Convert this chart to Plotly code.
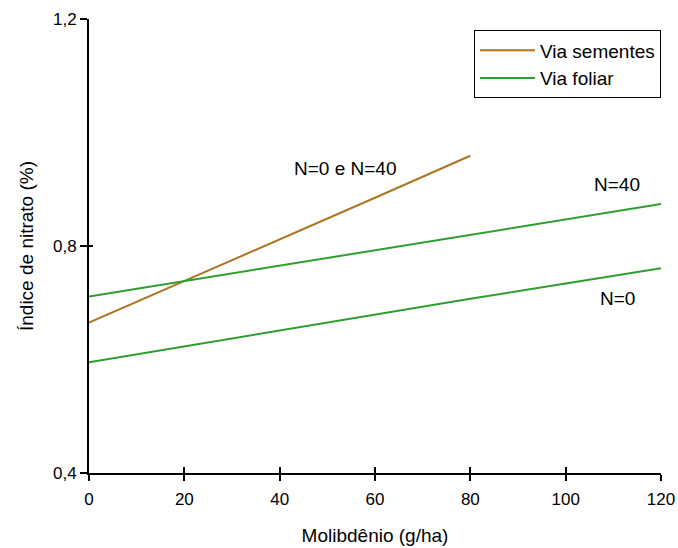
import plotly.graph_objects as go

# Data
mo_seed = [0, 20, 40, 60, 80]
seed_n0_n40 = [0.665, 0.738, 0.812, 0.885, 0.959]

mo_leaf = [0, 20, 40, 60, 80, 100, 120]
leaf_n40 = [0.711, 0.738, 0.765, 0.792, 0.819, 0.847, 0.874]
leaf_n0 = [0.595, 0.623, 0.652, 0.680, 0.707, 0.734, 0.761]

x_ticks = [0, 20, 40, 60, 80, 100, 120]
y_ticks = [0.4, 0.8, 1.2]
y_ticktext = ["0,4", "0,8", "1,2"]

BROWN = "#AD7623"
GREEN = "#2E9E2E"
FONT = "Liberation Sans, Arial, sans-serif"

fig = go.Figure()
fig.add_trace(go.Scatter(x=mo_seed, y=seed_n0_n40, mode="lines", name="Via sementes",
                         line=dict(color=BROWN, width=2)))
fig.add_trace(go.Scatter(x=mo_leaf, y=leaf_n40, mode="lines", name="Via foliar",
                         line=dict(color=GREEN, width=2)))
fig.add_trace(go.Scatter(x=mo_leaf, y=leaf_n0, mode="lines", name="Via foliar",
                         line=dict(color=GREEN, width=2), showlegend=False))
# dummy trace to enable overlay axes (inside ticks)
fig.add_trace(go.Scatter(x=[None], y=[None], xaxis="x2", yaxis="y2", showlegend=False,
                         hoverinfo="skip"))

fig.update_layout(
    width=678, height=548,
    margin=dict(l=89, r=17, t=19, b=75, autoexpand=False),
    paper_bgcolor="white", plot_bgcolor="white",
    font=dict(family=FONT, size=19, color="black"),
    showlegend=True,
    legend=dict(x=0.673, y=0.975, xanchor="left", yanchor="top",
                bordercolor="black", borderwidth=1, bgcolor="white",
                font=dict(size=19), tracegroupgap=0, itemwidth=55),
    xaxis=dict(range=[0, 120], tickvals=x_ticks, showgrid=False, zeroline=False,
               showline=True, linecolor="black", linewidth=2, automargin=False,
               ticks="outside", ticklen=6, tickwidth=1.5, tickcolor="black",
               ticklabelstandoff=4, ticklabeloverflow="allow",
               title=dict(text="Molibdênio (g/ha)", font=dict(size=19), standoff=20),
               tickfont=dict(size=17)),
    yaxis=dict(range=[0.4, 1.2], tickvals=y_ticks, ticktext=y_ticktext, showgrid=False,
               zeroline=False, showline=True, linecolor="black", linewidth=2,
               automargin=False, ticklabeloverflow="allow",
               ticks="outside", ticklen=7, tickwidth=1.5, tickcolor="black",
               title=dict(text="Índice de nitrato (%)", font=dict(size=19), standoff=14),
               tickfont=dict(size=17)),
    xaxis2=dict(range=[0, 120], overlaying="x", anchor="y2", tickvals=x_ticks,
                ticks="inside", ticklen=6, tickwidth=1.5, tickcolor="black",
                showticklabels=False, showgrid=False, zeroline=False, showline=False),
    yaxis2=dict(range=[0.4, 1.2], overlaying="y", anchor="x2", tickvals=y_ticks,
                ticks="inside", ticklen=4, tickwidth=1.5, tickcolor="black",
                showticklabels=False, showgrid=False, zeroline=False, showline=False),
)

fig.add_annotation(x=53.7, y=0.937, text="N=0 e N=40", showarrow=False,
                   font=dict(size=19))
fig.add_annotation(x=110.8, y=0.909, text="N=40", showarrow=False, font=dict(size=19))
fig.add_annotation(x=110.8, y=0.708, text="N=0", showarrow=False, font=dict(size=19))

fig.write_html("out.html", config={"displayModeBar": False},
               post_script="document.body.style.margin='0';document.body.style.overflow='hidden';")
